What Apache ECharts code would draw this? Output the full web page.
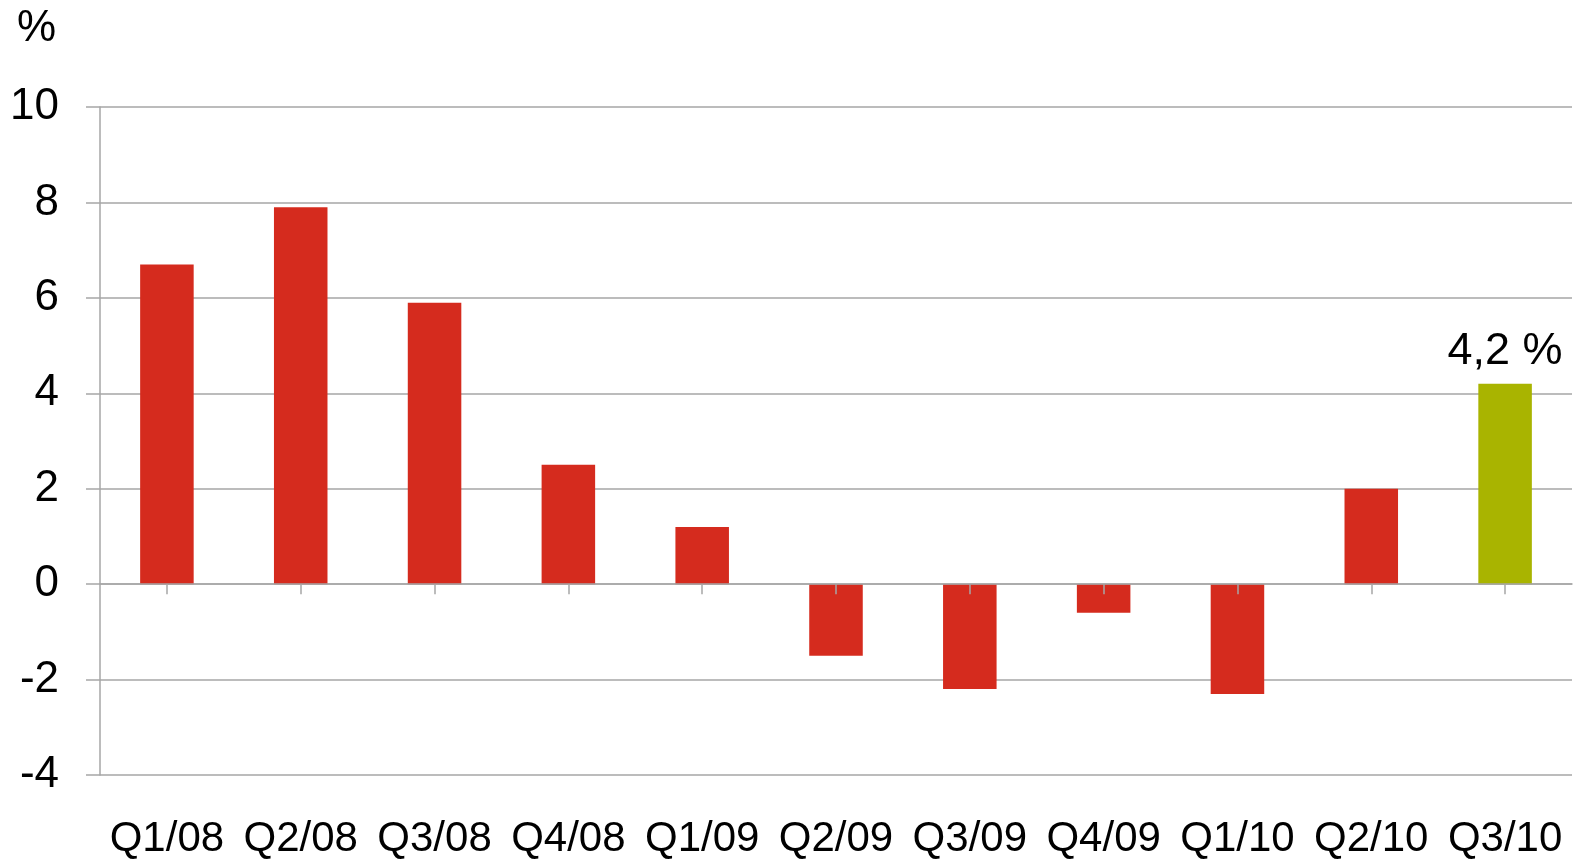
<!DOCTYPE html>
<html>
<head>
<meta charset="utf-8">
<title>Quarterly change</title>
<script src="https://cdn.jsdelivr.net/npm/echarts@6/dist/echarts.min.js"></script>
<style>
  html, body { margin: 0; padding: 0; background: #fff; }
  #chart { width: 1573px; height: 860px; }
</style>
</head>
<body>
<div id="chart"></div>
<script>
// quarters on the x axis
const quarters = ['Q1/08', 'Q2/08', 'Q3/08', 'Q4/08', 'Q1/09', 'Q2/09', 'Q3/09', 'Q4/09', 'Q1/10', 'Q2/10', 'Q3/10']
// change in % per quarter
const values = [6.7, 7.9, 5.9, 2.5, 1.2, -1.5, -2.2, -0.6, -2.3, 2.0, 4.2]
// y axis ticks
const yTicks = [-4, -2, 0, 2, 4, 6, 8, 10]

const RED = '#d52b1e'
const GREEN = '#a9b400'
const GRID_GRAY = '#a6a6a6'
const FONT = 'Liberation Sans, Arial, sans-serif'

const lastIdx = values.length - 1

const chart = echarts.init(document.getElementById('chart'))

chart.setOption({
  animation: false,
  title: {
    text: '%',
    left: 12,
    top: 2,
    textStyle: { fontFamily: FONT, fontSize: 44, fontWeight: 'normal', color: '#000' }
  },
  grid: { left: 100, right: 1, top: 107, bottom: 81, containLabel: false },
  xAxis: [
    {
      type: 'category',
      data: quarters,
      position: 'bottom',
      axisLine: { show: false, onZero: false },
      axisTick: { show: false },
      axisLabel: { fontFamily: FONT, fontSize: 42, color: '#000', margin: 43, interval: 0 }
    },
    {
      // zero line with ticks at category centres, drawn over the bars
      type: 'category',
      data: quarters,
      position: 'bottom',
      z: 5,
      axisLine: { show: true, onZero: true, lineStyle: { color: GRID_GRAY, width: 1.5 } },
      axisTick: { show: true, alignWithLabel: true, length: 10, lineStyle: { color: GRID_GRAY, width: 1.5 } },
      axisLabel: { show: false }
    }
  ],
  yAxis: {
    type: 'value',
    min: yTicks[0],
    max: yTicks[yTicks.length - 1],
    interval: 2,
    axisLine: { show: true, lineStyle: { color: GRID_GRAY, width: 1.5 } },
    axisTick: { show: true, length: 14, lineStyle: { color: GRID_GRAY, width: 1.5 } },
    splitLine: { show: true, lineStyle: { color: GRID_GRAY, width: 1.5 } },
    axisLabel: { fontFamily: FONT, fontSize: 44, color: '#000', margin: 41 }
  },
  series: [
    {
      type: 'bar',
      xAxisIndex: 0,
      barWidth: '40%',
      data: values.map((v, i) => ({
        value: v,
        itemStyle: { color: i === lastIdx ? GREEN : RED },
        label: i === lastIdx ? {
          show: true,
          position: 'top',
          distance: 10,
          fontFamily: FONT,
          fontSize: 45,
          color: '#000',
          formatter: p => String(p.value).replace('.', ',') + ' %'
        } : { show: false }
      }))
    }
  ]
})

window.addEventListener('resize', () => chart.resize())
</script>
</body>
</html>
